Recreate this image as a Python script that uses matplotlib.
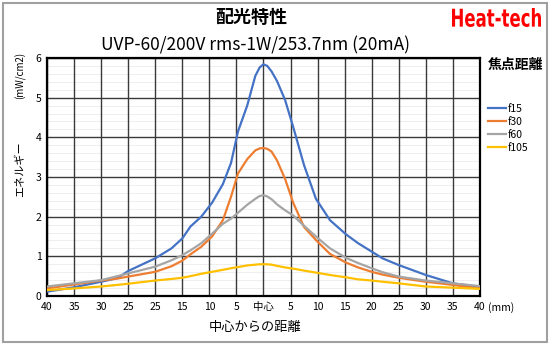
import matplotlib
matplotlib.use("Agg")
from matplotlib import pyplot as plt
from matplotlib.patches import Rectangle, PathPatch
from matplotlib.textpath import TextPath
from matplotlib.font_manager import FontProperties
from matplotlib.transforms import Affine2D, IdentityTransform

plt.rcParams["font.family"] = ["Noto Sans CJK JP", "DejaVu Sans"]

# distance from centre (mm)
dist = [-40, -35, -30, -27, -25, -20, -17, -15, -13.5, -11.5, -9.5, -7.5, -6, -4.7, -3, -1.5,
        -0.7, 0, 0.7, 1.5, 2.5, 4, 5.5, 7.5, 9.7, 12.3, 15.3, 17.5, 20, 22, 25, 30, 35, 40]

f15 = [0.11, 0.22, 0.36, 0.45, 0.63, 0.95, 1.2, 1.45, 1.75, 2.0, 2.35, 2.82, 3.35, 4.15, 4.8, 5.55,
       5.76, 5.84, 5.8, 5.66, 5.42, 4.94, 4.26, 3.3, 2.45, 1.91, 1.55, 1.33, 1.12, 0.95, 0.78,
       0.53, 0.32, 0.22]
f30 = [0.19, 0.29, 0.39, 0.44, 0.49, 0.61, 0.75, 0.89, 1.05, 1.24, 1.5, 1.91, 2.5, 3.09, 3.45,
       3.67, 3.72, 3.73, 3.71, 3.64, 3.42, 2.95, 2.35, 1.74, 1.41, 1.06, 0.84, 0.72, 0.61, 0.54,
       0.46, 0.36, 0.28, 0.19]
f60 = [0.24, 0.32, 0.40, 0.5, 0.57, 0.74, 0.9, 1.03, 1.15, 1.33, 1.57, 1.82, 1.95, 2.1, 2.3,
       2.45, 2.52, 2.54, 2.51, 2.44, 2.31, 2.16, 2.03, 1.77, 1.5, 1.2, 0.96, 0.83, 0.7, 0.6,
       0.49, 0.39, 0.32, 0.25]
f105 = [0.15, 0.19, 0.24, 0.28, 0.31, 0.39, 0.43, 0.46, 0.5, 0.56, 0.61, 0.66, 0.7, 0.73, 0.77,
        0.79, 0.8, 0.8, 0.8, 0.79, 0.76, 0.72, 0.69, 0.64, 0.59, 0.53, 0.47, 0.42, 0.39, 0.36,
        0.32, 0.24, 0.21, 0.18]

series = [("f15", f15, "#4472C4"), ("f30", f30, "#ED7D31"),
          ("f60", f60, "#A5A5A5"), ("f105", f105, "#FFC000")]

xticks = list(range(-40, 41, 5))
xlabels = ["40", "35", "30", "25", "25", "15", "10", "5", "中心",
           "5", "10", "15", "20", "25", "30", "35", "40"]

fig = plt.figure(figsize=(5.5, 3.45), dpi=100)
fig.patches.append(Rectangle((0.006, 0.009), 0.988, 0.982, transform=fig.transFigure,
                             fill=False, edgecolor="#A0A0A0", linewidth=1.5))

ax = fig.add_axes([0.0855, 0.142, 0.787, 0.690])
# faint minor horizontal lines under everything
for k in range(1, 30):
    if k % 5:
        ax.axhline(k * 0.2, color="#EBEBEB", linewidth=0.6, zorder=0)
for name, vals, col in series:
    ax.plot(dist, vals, color=col, linewidth=1.6, label=name, zorder=3)

ax.set_xlim(-40, 40)
ax.set_ylim(0, 6)
ax.set_xticks(xticks)
ax.set_xticklabels(xlabels)
ax.set_yticks(range(0, 7))
ax.grid(True, which="major", color="#3A3A3A", linewidth=1.0, zorder=1)
ax.set_axisbelow(True)
ax.tick_params(axis="both", which="both", length=0, labelsize=7.5, pad=4)
for s in ax.spines.values():
    s.set_linewidth(1.6)
    s.set_color("black")

fig.text(0.912, 0.110, "(mm)", fontsize=7.5, ha="center", va="center")
fig.text(0.456, 0.950, "配光特性", fontsize=13, fontweight="bold", ha="center", va="center")
fig.text(0.465, 0.868, "UVP-60/200V rms-1W/253.7nm (20mA)", fontsize=12.5,
         ha="center", va="center")
fig.text(0.037, 0.51, "エネルギー", fontsize=8, rotation=90, ha="center", va="center")
fig.text(0.037, 0.78, "(mW/cm2)", fontsize=7, rotation=90, ha="center", va="center")
fig.text(0.464, 0.052, "中心からの距離", fontsize=9.5, ha="center", va="center")
fig.text(0.887, 0.813, "焦点距離", fontsize=10, fontweight="bold", ha="left", va="center")

# condensed red logo text, squeezed into its box (pixels)
logo = TextPath((0, 0), "Heat-tech", size=20,
                prop=FontProperties(family="DejaVu Sans", weight="bold"))
bb = logo.get_extents()
x0, x1, y0, y1 = 452, 541, 318, 337
tr = (Affine2D().translate(-bb.x0, -bb.y0)
      .scale((x1 - x0) / bb.width, (y1 - y0) / bb.height).translate(x0, y0))
fig.patches.append(PathPatch(tr.transform_path(logo), transform=IdentityTransform(),
                             facecolor="#FF0000", edgecolor="none"))

ax.legend(loc="upper left", bbox_to_anchor=(0.880, 0.712), bbox_transform=fig.transFigure,
          frameon=False, fontsize=7.5, handlelength=1.7, handletextpad=0.2,
          labelspacing=0.3, borderaxespad=0)

fig.savefig("out.png", dpi=100)
